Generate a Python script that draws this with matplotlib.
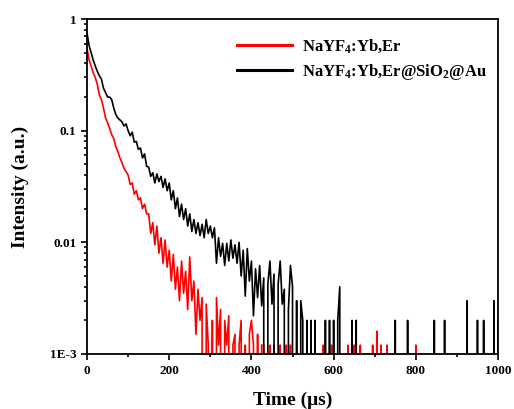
import numpy as np
import matplotlib.pyplot as plt
from matplotlib.ticker import FixedLocator, FixedFormatter, LogLocator, MultipleLocator

plt.rcParams['font.family'] = ['Liberation Serif', 'DejaVu Serif']
plt.rcParams['font.weight'] = 'bold'
plt.rcParams['mathtext.fontset'] = 'custom'
plt.rcParams['mathtext.rm'] = 'Liberation Serif:bold'
plt.rcParams['mathtext.bf'] = 'Liberation Serif:bold'
plt.rcParams['mathtext.it'] = 'Liberation Serif:bold'
plt.rcParams['mathtext.default'] = 'bf'

# tiempo (us), paso de 5 us
time = np.arange(0, 1001, 5)

# NaYF4:Yb,Er  (0 = por debajo de 1E-3)
red = [
    0.55, 0.43, 0.38, 0.33, 0.30, 0.26, 0.21, 0.19, 0.16, 0.13,
    0.118, 0.105, 0.092, 0.085, 0.072, 0.065, 0.057, 0.052, 0.046, 0.043,
    0.040, 0.033, 0.034, 0.027, 0.029, 0.024, 0.025, 0.020, 0.022, 0.018,
    0.018, 0.012, 0.015, 0.0095, 0.014, 0.008, 0.011, 0.0065, 0.0105, 0.006,
    0.0085, 0.0045, 0.0078, 0.0038, 0.006, 0.003, 0.0068, 0.0035, 0.0055, 0.0025,
    0.0074, 0.003, 0.0045, 0.0015, 0.0038, 0.002, 0.0032, 0, 0.0028, 0.0012,
    0, 0.002, 0, 0.0032, 0.0012, 0.0025, 0, 0.002, 0.0012, 0.0022,
    0, 0.0012, 0.0015, 0, 0.0012, 0.002, 0, 0.0012, 0, 0.0015,
    0.002, 0.0012, 0, 0.0015, 0, 0.0012, 0.0012, 0, 0, 0.0012,
    0, 0.0012, 0, 0, 0.0012, 0, 0, 0.0012, 0, 0.0012,
    0, 0, 0, 0, 0, 0, 0, 0.0012, 0, 0,
    0, 0.0012, 0, 0, 0, 0.0012, 0, 0, 0, 0.0012,
    0, 0, 0, 0, 0, 0, 0, 0.0012, 0, 0,
    0.0012, 0, 0, 0.0012, 0, 0, 0, 0, 0, 0.0012,
    0, 0.0016, 0, 0.0012, 0, 0, 0.0012, 0, 0, 0,
    0, 0, 0, 0, 0, 0, 0, 0, 0, 0,
    0.0012, 0, 0, 0, 0, 0, 0, 0, 0, 0,
    0, 0, 0, 0, 0, 0, 0, 0, 0, 0,
    0, 0, 0, 0, 0, 0, 0, 0, 0, 0,
    0, 0, 0, 0, 0, 0, 0, 0, 0, 0,
    0,
]

# NaYF4:Yb,Er@SiO2@Au
black = [
    0.75, 0.58, 0.50, 0.43, 0.38, 0.34, 0.31, 0.29, 0.24, 0.22,
    0.20, 0.20, 0.19, 0.16, 0.14, 0.13, 0.125, 0.12, 0.11, 0.115,
    0.10, 0.090, 0.097, 0.079, 0.080, 0.068, 0.070, 0.057, 0.062, 0.048,
    0.047, 0.039, 0.042, 0.034, 0.041, 0.035, 0.039, 0.031, 0.037, 0.029,
    0.034, 0.024, 0.029, 0.020, 0.025, 0.017, 0.022, 0.016, 0.020, 0.014,
    0.018, 0.0125, 0.016, 0.012, 0.015, 0.0115, 0.0145, 0.011, 0.016, 0.012,
    0.014, 0.011, 0.0135, 0.0065, 0.011, 0.0075, 0.0098, 0.0062, 0.0098, 0.0068,
    0.0105, 0.0072, 0.0095, 0.0065, 0.010, 0.005, 0.0085, 0.0033, 0.0088, 0.0045,
    0.0068, 0.0022, 0.0058, 0.0032, 0.0062, 0.0027, 0.0048, 0, 0.0042, 0.0068,
    0.0028, 0.0052, 0, 0.0042, 0.0068, 0.0028, 0.0038, 0, 0.0025, 0.0062,
    0.004, 0, 0.003, 0, 0.003, 0.002, 0, 0.002, 0, 0.002,
    0, 0.002, 0, 0, 0, 0, 0.002, 0, 0.002, 0,
    0.002, 0, 0.002, 0.004, 0, 0, 0, 0, 0, 0.002,
    0, 0.002, 0, 0, 0, 0, 0, 0, 0, 0,
    0, 0, 0, 0, 0, 0, 0, 0, 0, 0,
    0.002, 0, 0, 0, 0, 0, 0.002, 0, 0, 0,
    0, 0, 0, 0, 0, 0, 0, 0, 0, 0.002,
    0, 0, 0, 0, 0.002, 0, 0, 0, 0, 0,
    0, 0, 0, 0, 0, 0.003, 0, 0, 0, 0,
    0.002, 0, 0, 0.002, 0, 0, 0, 0, 0.003, 0,
    0.002,
]

ytick_vals = [1e-3, 1e-2, 1e-1, 1]
ytick_labels = ["1E-3", "0.01", "0.1", "1"]

fig = plt.figure(figsize=(5.14, 4.09), dpi=100)
ax = fig.add_axes([0.1693, 0.1345, 0.7996, 0.819])

ax.plot(time, red, color="red", lw=1.2, label="NaYF$_4$:Yb,Er")
ax.plot(time, black, color="black", lw=1.2, label="NaYF$_4$:Yb,Er@SiO$_2$@Au")

ax.set_yscale("log")
ax.set_ylim(1e-3, 1)
ax.set_xlim(0, 1000)

ax.yaxis.set_major_locator(FixedLocator(ytick_vals))
ax.yaxis.set_major_formatter(FixedFormatter(ytick_labels))
ax.yaxis.set_minor_locator(LogLocator(base=10, subs=np.arange(2, 10)))
ax.xaxis.set_major_locator(MultipleLocator(200))
ax.xaxis.set_minor_locator(MultipleLocator(100))

ax.tick_params(which="both", direction="out", width=1.2, labelsize=9.5)
ax.tick_params(which="major", length=4)
ax.tick_params(which="minor", length=2.5)
ax.tick_params(axis="x", pad=4)
for lab in ax.get_xticklabels() + ax.get_yticklabels():
    lab.set_fontweight("bold")
for sp in ax.spines.values():
    sp.set_linewidth(1.3)

ax.set_xlabel("Time (μs)", fontsize=14, fontweight="bold")
ax.set_ylabel("Intensity (a.u.)", fontsize=14, fontweight="bold")
ax.xaxis.set_label_coords(0.5, -0.113)
ax.yaxis.set_label_coords(-0.141, 0.5)

leg = ax.legend(loc="upper left", bbox_to_anchor=(0.365, 0.945), frameon=False,
                fontsize=12, handlelength=3.3, handletextpad=0.6,
                borderpad=0, borderaxespad=0, labelspacing=0.4)
for line in leg.get_lines():
    line.set_linewidth(2.2)

fig.savefig("out.png", dpi=100)
